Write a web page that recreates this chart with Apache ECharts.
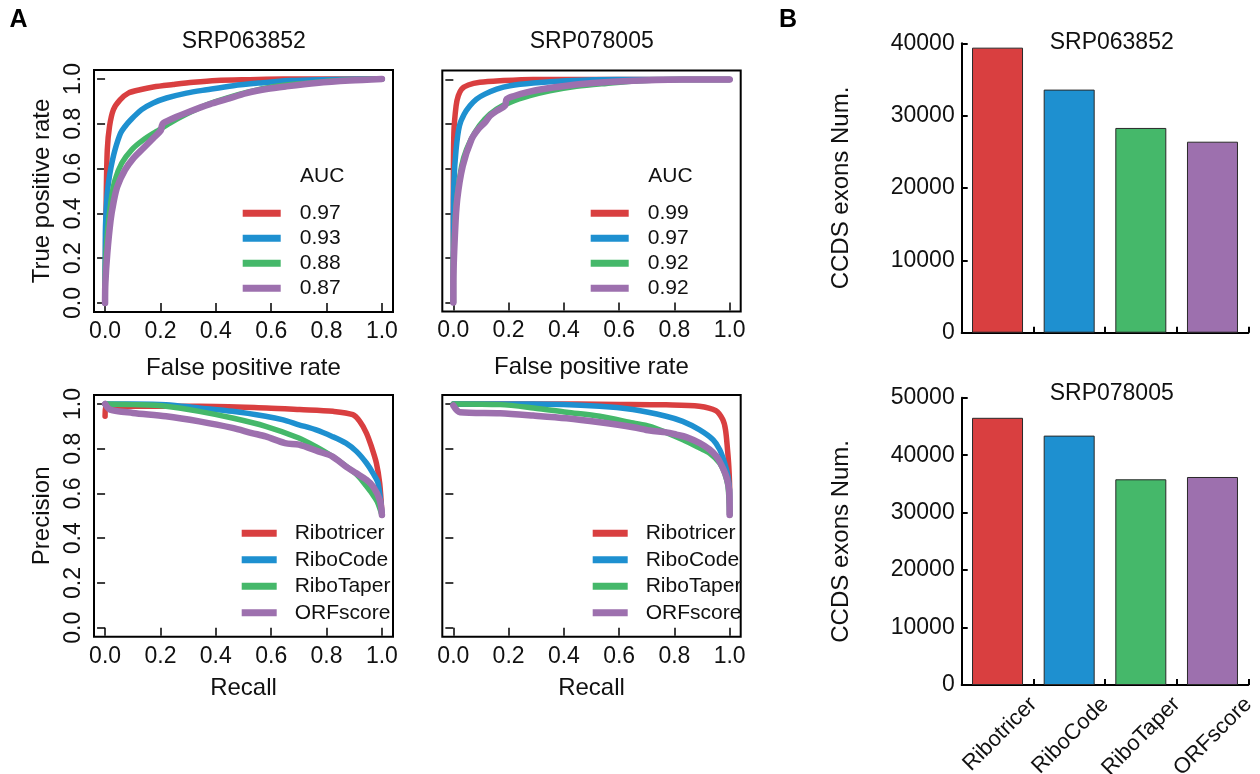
<!DOCTYPE html>
<html>
<head>
<meta charset="utf-8">
<title>Ribosome profiling ORF detection benchmark</title>
<script src="https://cdn.jsdelivr.net/npm/echarts@6/dist/echarts.min.js"></script>
<style>
  html, body { margin: 0; padding: 0; background: #fff; }
  #chart { width: 1260px; height: 774px; }
</style>
</head>
<body>
<div id="chart"></div>
<script>
// ---- data ----
const methods = ['Ribotricer', 'RiboCode', 'RiboTaper', 'ORFscore'];
const methodColors = ['#D93F40', '#1E90D0', '#45B86A', '#9D70AE'];
const unitTicks = [0, 0.2, 0.4, 0.6, 0.8, 1.0];

// AUC values shown in the ROC legends
const aucSRP063852 = ['0.97', '0.93', '0.88', '0.87'];
const aucSRP078005 = ['0.99', '0.97', '0.92', '0.92'];

// ROC curves, SRP063852: [false positive rate, true positive rate]
const rocA_Ribotricer = [[0,0],[0.002,0.25],[0.004,0.46],[0.008,0.684],[0.016,0.788],[0.030,0.863],[0.054,0.907],[0.084,0.937],[0.126,0.952],[0.174,0.964],[0.246,0.975],[0.319,0.985],[0.403,0.993],[0.523,0.997],[0.643,1.0],[1,1]];
const rocA_RiboCode = [[0,0],[0.001,0.31],[0.006,0.46],[0.012,0.534],[0.022,0.609],[0.036,0.684],[0.056,0.758],[0.072,0.788],[0.093,0.818],[0.132,0.863],[0.174,0.893],[0.222,0.915],[0.294,0.937],[0.367,0.952],[0.463,0.970],[0.559,0.982],[0.667,0.993],[0.775,0.997],[1,1]];
const rocA_RiboTaper = [[0,0],[0.001,0.161],[0.008,0.31],[0.022,0.46],[0.036,0.549],[0.060,0.624],[0.096,0.684],[0.138,0.728],[0.186,0.766],[0.234,0.803],[0.294,0.843],[0.367,0.885],[0.439,0.915],[0.511,0.940],[0.583,0.960],[0.655,0.973],[0.763,0.985],[0.859,0.994],[1,1]];
const rocA_ORFscore = [[0,0],[0.001,0.087],[0.008,0.221],[0.020,0.37],[0.030,0.445],[0.044,0.519],[0.072,0.594],[0.102,0.646],[0.138,0.691],[0.174,0.736],[0.201,0.770],[0.205,0.790],[0.210,0.803],[0.246,0.825],[0.306,0.855],[0.379,0.888],[0.439,0.910],[0.511,0.937],[0.583,0.955],[0.655,0.967],[0.763,0.982],[0.883,0.993],[1,1]];

// ROC curves, SRP078005
const rocB_Ribotricer = [[0,0],[0,0.462],[0.002,0.762],[0.010,0.882],[0.018,0.927],[0.030,0.957],[0.054,0.975],[0.096,0.987],[0.169,0.994],[0.289,1.0],[1,1]];
const rocB_RiboCode = [[0,0],[0,0.312],[0.002,0.537],[0.010,0.687],[0.022,0.792],[0.039,0.844],[0.060,0.882],[0.084,0.912],[0.114,0.934],[0.157,0.957],[0.205,0.972],[0.289,0.984],[0.410,0.994],[0.590,1.0],[1,1]];
const rocB_RiboTaper = [[0,0],[0,0.162],[0.004,0.312],[0.012,0.462],[0.030,0.612],[0.048,0.687],[0.078,0.762],[0.114,0.822],[0.157,0.867],[0.205,0.897],[0.277,0.927],[0.349,0.949],[0.446,0.969],[0.554,0.982],[0.675,0.994],[0.819,1.0],[1,1]];
const rocB_ORFscore = [[0,0],[0,0.087],[0.006,0.312],[0.014,0.462],[0.034,0.612],[0.066,0.732],[0.090,0.777],[0.114,0.807],[0.133,0.837],[0.157,0.859],[0.187,0.882],[0.193,0.912],[0.223,0.927],[0.265,0.942],[0.325,0.957],[0.410,0.972],[0.506,0.984],[0.651,0.994],[0.831,1.0],[1,1]];

// Precision-recall curves, SRP063852: [recall, precision]
const prA_Ribotricer = [[0,0.945],[0.003,0.995],[0.02,0.99],[0.10,0.99],[0.343,0.99],[0.583,0.982],[0.703,0.975],[0.823,0.967],[0.895,0.952],[0.920,0.922],[0.944,0.87],[0.962,0.81],[0.980,0.736],[0.992,0.646],[1.0,0.51]];
const prA_RiboCode = [[0,1.0],[0.10,1.0],[0.22,0.997],[0.34,0.982],[0.46,0.967],[0.58,0.945],[0.64,0.93],[0.70,0.907],[0.76,0.885],[0.82,0.855],[0.87,0.825],[0.908,0.788],[0.944,0.736],[0.968,0.69],[0.986,0.646],[1.0,0.51]];
const prA_RiboTaper = [[0,1.0],[0.10,0.997],[0.22,0.99],[0.34,0.967],[0.46,0.937],[0.58,0.90],[0.70,0.848],[0.76,0.81],[0.82,0.766],[0.88,0.713],[0.916,0.676],[0.94,0.639],[0.964,0.60],[0.983,0.564],[1.0,0.504]];
const prA_ORFscore = [[0,1.0],[0.018,0.975],[0.10,0.96],[0.22,0.945],[0.34,0.922],[0.46,0.893],[0.53,0.87],[0.58,0.855],[0.65,0.825],[0.70,0.818],[0.77,0.788],[0.82,0.766],[0.87,0.72],[0.908,0.69],[0.944,0.661],[0.968,0.631],[0.992,0.572],[1.0,0.504]];

// Precision-recall curves, SRP078005
const prB_Ribotricer = [[0,1.0],[0.30,1.0],[0.60,0.998],[0.77,0.996],[0.89,0.99],[0.95,0.97],[0.975,0.93],[0.985,0.885],[0.992,0.80],[0.997,0.72],[1.0,0.62],[1.0,0.505]];
const prB_RiboCode = [[0,1.0],[0.29,1.0],[0.53,0.99],[0.65,0.975],[0.77,0.945],[0.83,0.922],[0.89,0.885],[0.94,0.84],[0.964,0.796],[0.982,0.736],[0.994,0.676],[1.0,0.60],[1.0,0.505]];
const prB_RiboTaper = [[0,1.0],[0.17,0.997],[0.29,0.982],[0.41,0.963],[0.53,0.945],[0.651,0.915],[0.711,0.90],[0.771,0.872],[0.831,0.84],[0.892,0.803],[0.928,0.78],[0.964,0.736],[0.982,0.69],[0.994,0.631],[1.0,0.504]];
const prB_ORFscore = [[0,0.993],[0.024,0.963],[0.169,0.958],[0.289,0.948],[0.41,0.936],[0.53,0.918],[0.651,0.896],[0.711,0.881],[0.771,0.873],[0.807,0.863],[0.843,0.852],[0.892,0.825],[0.928,0.796],[0.952,0.766],[0.970,0.728],[0.988,0.676],[0.998,0.616],[1.0,0.504]];

// CCDS exons detected by each method
const exonsSRP063852 = [39400, 33600, 28300, 26400];
const exonsSRP078005 = [46500, 43400, 35800, 36200];
const exonTicksSRP063852 = { max: 40000, step: 10000 };
const exonTicksSRP078005 = { max: 50000, step: 10000 };

// ---- layout / styling ----
const FONT = '"Liberation Sans", Arial, Helvetica, sans-serif';
const INK = '#111';

const grids = [
  { left: 94,    top: 70,    width: 299,   height: 242 },   // ROC SRP063852
  { left: 442.3, top: 70.5,  width: 298.4, height: 241 },   // ROC SRP078005
  { left: 94,    top: 395,   width: 299,   height: 241.7 }, // PR SRP063852
  { left: 442.3, top: 395,   width: 298.4, height: 241.7 }, // PR SRP078005
  { left: 961.7, top: 43.3,  width: 286.6, height: 289.4 }, // bars SRP063852
  { left: 961.7, top: 397.7, width: 286.6, height: 287.3 }  // bars SRP078005
].map((g, i) => Object.assign({
  show: i < 4, borderColor: '#000', borderWidth: 2, backgroundColor: 'transparent',
  containLabel: false, outerBoundsMode: 'none'
}, g));

function unitXAxis(gridIndex, name, nameGap) {
  return {
    type: 'value', gridIndex, min: -0.04, max: 1.04,
    axisLine: { show: false }, splitLine: { show: false },
    axisTick: { show: true, customValues: unitTicks, length: 8, lineStyle: { color: '#000', width: 1.5 } },
    axisLabel: { show: true, customValues: unitTicks, formatter: v => v.toFixed(1),
                 fontSize: 23, color: INK, fontFamily: FONT, margin: 8 },
    name, nameLocation: 'middle', nameGap,
    nameTextStyle: { fontSize: 24, color: INK, fontFamily: FONT }
  };
}
function unitYAxis(gridIndex, name, showLabels) {
  return {
    type: 'value', gridIndex, min: -0.04, max: 1.04,
    axisLine: { show: false }, splitLine: { show: false },
    axisTick: { show: true, customValues: unitTicks, length: 8, lineStyle: { color: '#000', width: 1.5 } },
    axisLabel: { show: showLabels, customValues: unitTicks, formatter: v => v.toFixed(1), rotate: 90,
                 fontSize: 23, color: INK, fontFamily: FONT, margin: 9 },
    name: showLabels ? name : '', nameLocation: 'middle', nameGap: 40,
    nameTextStyle: { fontSize: 24, color: INK, fontFamily: FONT }
  };
}
function barXAxis(gridIndex) {
  return {
    type: 'category', gridIndex, data: methods, boundaryGap: true, position: 'bottom',
    axisLine: { show: true, lineStyle: { color: '#000', width: 2 } },
    axisTick: { show: true, inside: true, interval: 0, length: 6, lineStyle: { color: '#000', width: 2 } },
    axisLabel: { show: false }, splitLine: { show: false }
  };
}
function barYAxis(gridIndex, ticks) {
  return {
    type: 'value', gridIndex, min: 0, max: ticks.max, interval: ticks.step,
    axisLine: { show: true, lineStyle: { color: '#000', width: 2 } },
    axisTick: { show: true, inside: true, length: 6, lineStyle: { color: '#000', width: 2 } },
    axisLabel: { fontSize: 23, color: INK, fontFamily: FONT, margin: 7, formatter: v => String(v) },
    splitLine: { show: false },
    name: 'CCDS exons Num.', nameLocation: 'middle', nameGap: 108,
    nameTextStyle: { fontSize: 24, color: INK, fontFamily: FONT }
  };
}

const xAxes = [
  unitXAxis(0, 'False positive rate', 44),
  unitXAxis(1, 'False positive rate', 44),
  unitXAxis(2, 'Recall', 40),
  unitXAxis(3, 'Recall', 40),
  barXAxis(4),
  barXAxis(5),
  // method names under the lower bar chart, anchored at each bar's right boundary
  {
    type: 'category', gridIndex: 5, data: [''].concat(methods), boundaryGap: false, position: 'bottom',
    axisLine: { show: false }, axisTick: { show: false }, splitLine: { show: false },
    axisLabel: { interval: 0, rotate: 45, fontSize: 22, color: INK, fontFamily: FONT, margin: 16 }
  }
];
const yAxes = [
  unitYAxis(0, 'True positive rate', true),
  unitYAxis(1, 'True positive rate', false),
  unitYAxis(2, 'Precision', true),
  unitYAxis(3, 'Precision', false),
  barYAxis(4, exonTicksSRP063852),
  barYAxis(5, exonTicksSRP078005)
];

function curve(idx, gridIndex, data) {
  return {
    type: 'line', name: methods[idx], xAxisIndex: gridIndex, yAxisIndex: gridIndex, data,
    showSymbol: false, symbol: 'none', silent: true, animation: false,
    smooth: 0.3,
    itemStyle: { color: methodColors[idx] },
    lineStyle: { color: methodColors[idx], width: idx === 3 ? 6.5 : 5.5, cap: 'round', join: 'round' },
    z: 2 + idx
  };
}
function bars(gridIndex, values) {
  return {
    type: 'bar', name: 'CCDS exons', xAxisIndex: gridIndex, yAxisIndex: gridIndex, barWidth: 51,
    animation: false, silent: true,
    data: values.map((v, i) => ({
      value: v,
      itemStyle: { color: methodColors[i], borderColor: '#2a2a2a', borderWidth: 1 }
    }))
  };
}

const series = [];
const curveSets = [
  [rocA_Ribotricer, rocA_RiboCode, rocA_RiboTaper, rocA_ORFscore],
  [rocB_Ribotricer, rocB_RiboCode, rocB_RiboTaper, rocB_ORFscore],
  [prA_Ribotricer, prA_RiboCode, prA_RiboTaper, prA_ORFscore],
  [prB_Ribotricer, prB_RiboCode, prB_RiboTaper, prB_ORFscore]
];
curveSets.forEach((set, g) => set.forEach((d, i) => series.push(curve(i, g, d))));
series.push(bars(4, exonsSRP063852));
series.push(bars(5, exonsSRP078005));

function legendBox(left, top, itemWidth, itemGap, textGap, labels) {
  return {
    data: methods, left, top, orient: 'vertical', padding: 0,
    icon: 'rect', itemWidth, itemHeight: 7, itemGap, selectedMode: false,
    textStyle: { fontSize: 21, color: INK, fontFamily: FONT, lineHeight: 21, padding: [0, 0, 0, textGap] },
    formatter: labels ? (n => labels[methods.indexOf(n)]) : (n => n)
  };
}

function label(text, x, y, size, opts) {
  return {
    type: 'text', x, y, silent: true,
    style: Object.assign({
      text, fontSize: size, fontFamily: FONT, fill: INK, align: 'center', verticalAlign: 'middle'
    }, opts || {})
  };
}

const option = {
  animation: false,
  textStyle: { fontFamily: FONT },
  grid: grids,
  xAxis: xAxes,
  yAxis: yAxes,
  series,
  legend: [
    legendBox(242.7, 202.8, 38, 4, 14, aucSRP063852),
    legendBox(590.7, 202.8, 38, 4, 14, aucSRP078005),
    legendBox(241.7, 522.8, 35, 5.5, 13, null),
    legendBox(592.7, 522.8, 35, 5.5, 13, null)
  ],
  graphic: [
    label('A', 18.5, 20, 25, { fontWeight: 'bold', fill: '#000' }),
    label('B', 788, 20.5, 25, { fontWeight: 'bold', fill: '#000' }),
    label('SRP063852', 243.8, 41.7, 23),
    label('SRP078005', 591.7, 41.7, 23),
    label('AUC', 300, 176, 21, { align: 'left' }),
    label('AUC', 648.3, 176, 21, { align: 'left' }),
    label('SRP063852', 1111.7, 42.5, 23),
    label('SRP078005', 1111.7, 393.3, 23)
  ]
};

const chart = echarts.init(document.getElementById('chart'), null, { renderer: 'canvas' });
chart.setOption(option);
</script>
</body>
</html>
